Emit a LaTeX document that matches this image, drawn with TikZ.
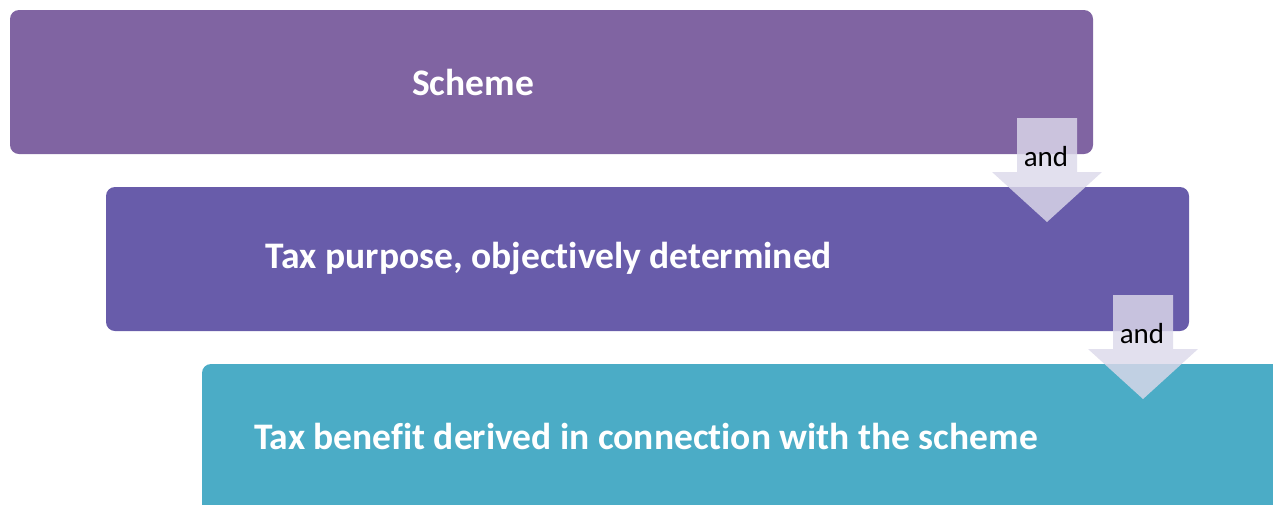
\documentclass[tikz,border=0pt]{standalone}
\usepackage{fontspec}
\setmainfont{Carlito}[Ligatures={NoCommon}]
\begin{document}
\begin{tikzpicture}[x=1pt,y=-1pt,
  box/.style={rounded corners=9pt, inner sep=0pt},
  boxtext/.style={text=white, font=\bfseries\fontsize{37.5}{42}\selectfont, inner sep=0pt},
  arrowshape/.style={fill=arrowfill, fill opacity=0.82, draw=none},
  andtext/.style={text=black, font=\fontsize{29}{33}\selectfont, inner sep=0pt}]
\definecolor{boxa}{HTML}{8064A2}
\definecolor{boxb}{HTML}{685CAA}
\definecolor{boxc}{HTML}{4BACC6}
\definecolor{arrowfill}{HTML}{DCD9EA}
\useasboundingbox (0,0) rectangle (1273,504);
\fill[box, boxa] (10,10) rectangle (1093,154);
\fill[box, boxb] (106,187) rectangle (1189,331);
\fill[box, boxc] (202,364) rectangle (1290,520);
\node[boxtext] (t1) at (473,82) {Scheme};
\node[boxtext] (t2) at (549,259) {Tax purpose, objectively determined};
\node[boxtext] (t3) at (646,436) {Tax benefit derived in connection with the scheme};
\fill[arrowshape] (1017,118) -- (1077,118) -- (1077,172) -- (1102,172) -- (1047,222) -- (992,172) -- (1017,172) -- cycle;
\fill[arrowshape] (1113,295) -- (1173,295) -- (1173,349) -- (1198,349) -- (1143,399) -- (1088,349) -- (1113,349) -- cycle;
\node[andtext] (a1) at (1046,157) {and};
\node[andtext] (a2) at (1142,334) {and};
\end{tikzpicture}
\end{document}
